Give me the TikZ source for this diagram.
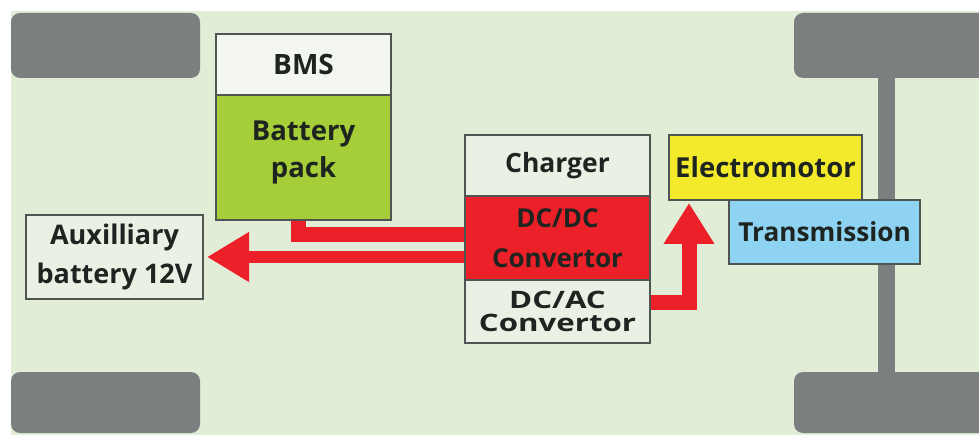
\documentclass[tikz,border=0pt]{standalone}
\usepackage{fontspec}
\setmainfont{Open Sans}
\newfontfamily\osbwide{Open Sans}[FakeStretch=1.3]
\usetikzlibrary{arrows.meta}
\definecolor{bg}{HTML}{E2EDD8}
\definecolor{wheel}{HTML}{7B7F80}
\definecolor{bord}{HTML}{4F5552}
\definecolor{bgreen}{HTML}{A6CE39}
\definecolor{rred}{HTML}{EC2028}
\definecolor{yel}{HTML}{F4EA2C}
\definecolor{sky}{HTML}{8ED3F2}
\definecolor{pale}{HTML}{EAF1E4}
\definecolor{whitish}{HTML}{F4F6F0}
\definecolor{txt}{HTML}{1E2420}
\pgfdeclarelayer{back}
\pgfdeclarelayer{arrowlayer}
\pgfsetlayers{back,arrowlayer,main}
\tikzset{
  box/.style={draw=bord, line width=2pt, inner sep=0pt, align=center, text=txt},
  wheelshape/.style={fill=wheel, rounded corners=9pt},
  redbar/.style={draw=rred, line width=#1, line join=miter},
}
\begin{document}
\begin{tikzpicture}[x=1pt,y=-1pt]
\useasboundingbox (0,0) rectangle (979,435);
\clip (0,0) rectangle (979,435);
\begin{pgfonlayer}{back}
\fill[white] (0,0) rectangle (979,435);
\fill[bg] (11,11) rectangle (979,435);
\fill[wheelshape] (11,13) rectangle (200,78);
\fill[wheelshape] (11,372) rectangle (200,433);
\fill[wheelshape] (794,13) rectangle (990,78);
\fill[wheelshape] (794,372) rectangle (990,433);
\fill[wheel] (878,70) rectangle (895,380);
\end{pgfonlayer}

\node[box, fill=whitish, minimum width=175pt, minimum height=61pt,
  font=\bfseries\fontsize{28}{28}\selectfont] (bms) at (303.5,64.5) {BMS};
\node[box, fill=bgreen, minimum width=175pt, minimum height=125pt] (bp) at (303.5,157.5) {};
\node[align=center, text=txt, inner sep=0pt,
  font=\bfseries\fontsize{27.5}{37}\selectfont] (bptext) at (303.5,152) {Battery\\pack};
\node[box, fill=pale, minimum width=185pt, minimum height=61pt,
  font=\bfseries\fontsize{26.5}{26.5}\selectfont] (chg) at (557.5,165.5) {Charger};
\node[box, fill=rred, minimum width=185pt, minimum height=84pt,
  font=\bfseries\fontsize{26}{40}\selectfont] (dcdc) at (557.5,238) {DC/DC\\Convertor};
\node[box, fill=pale, minimum width=185pt, minimum height=63pt,
  font=\osbwide\bfseries\fontsize{24}{23}\selectfont] (dcac) at (557.5,311.5) {DC/AC\\Convertor};
\node[box, fill=yel, minimum width=193pt, minimum height=65pt,
  font=\bfseries\fontsize{27.5}{27.5}\selectfont] (em) at (765.5,167.5) {Electromotor};
\node[box, fill=sky, minimum width=191pt, minimum height=64pt,
  font=\bfseries\fontsize{26.2}{26.2}\selectfont] (tr) at (824.5,232) {Transmission};
\node[box, fill=pale, minimum width=177pt, minimum height=84pt,
  font=\bfseries\fontsize{27}{39}\selectfont] (aux) at (114.5,257) {Auxilliary\\battery 12V};

\begin{pgfonlayer}{arrowlayer}
\draw[redbar=15pt] ([xshift=-5pt]bp.south) |- ([yshift=3.5pt]dcdc.west);
\draw[redbar=12pt, -{Triangle[length=42pt,width=47pt]}] (dcdc.west |- aux.east) -- ([xshift=3pt]aux.east);
\draw[redbar=15pt, -{Triangle[length=41pt,width=48pt]}] ([yshift=9pt]dcac.east) -| ([xshift=21pt,yshift=-2pt]em.south west);
\end{pgfonlayer}
\end{tikzpicture}
\end{document}
